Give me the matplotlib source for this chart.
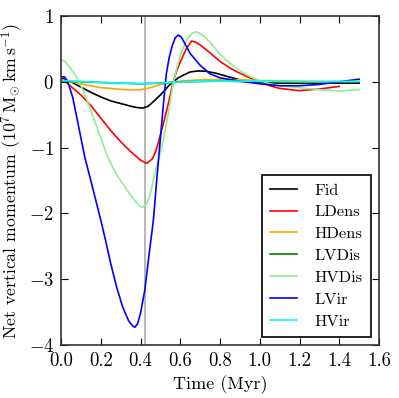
import matplotlib
matplotlib.use("Agg")
import matplotlib.pyplot as plt

plt.rcParams['font.family'] = 'serif'
plt.rcParams['font.serif'] = ['cmr10']
plt.rcParams['mathtext.fontset'] = 'cm'
plt.rcParams['axes.formatter.use_mathtext'] = True
plt.rcParams['axes.unicode_minus'] = True

labels = ["Fid", "LDens", "HDens", "LVDis", "HVDis", "LVir", "HVir"]
colors = ["black", "red", "orange", "green", "lightgreen", "blue", "cyan"]

t_fid = [0.0, 0.05, 0.1, 0.15, 0.2, 0.25, 0.3, 0.35, 0.38, 0.41, 0.44, 0.465, 0.5, 0.523, 0.545, 0.565,
         0.59, 0.615, 0.65, 0.69, 0.73, 0.78, 0.85, 0.9, 1.0, 1.1, 1.2, 1.3, 1.4, 1.5]
v_fid = [0.06, 0.0, -0.08, -0.16, -0.23, -0.29, -0.33, -0.37, -0.39, -0.40, -0.37, -0.30, -0.2, -0.125, -0.05, 0.0,
         0.06, 0.10, 0.15, 0.165, 0.16, 0.13, 0.07, 0.03, -0.01, -0.02, -0.02, -0.02, -0.02, -0.02]

t_ldens = [0.0, 0.05, 0.1, 0.15, 0.2, 0.25, 0.3, 0.35, 0.4, 0.431, 0.46, 0.48, 0.498, 0.52, 0.548, 0.565, 0.58,
           0.6, 0.63, 0.657, 0.68, 0.7, 0.75, 0.8, 0.85, 0.9, 0.95, 1.0, 1.05, 1.1, 1.2, 1.3, 1.4]
v_ldens = [0.06, -0.07, -0.2, -0.36, -0.55, -0.74, -0.91, -1.06, -1.19, -1.24, -1.17, -1.03, -0.83, -0.58, -0.23, 0.0, 0.15,
           0.3, 0.5, 0.62, 0.6, 0.56, 0.44, 0.31, 0.21, 0.13, 0.06, 0.0, -0.06, -0.1, -0.135, -0.11, -0.07]

t_hdens = [0.0, 0.05, 0.1, 0.15, 0.2, 0.25, 0.3, 0.356, 0.4, 0.45, 0.5, 0.55, 0.6, 0.7, 0.8, 0.9, 1.0, 1.2, 1.4, 1.5]
v_hdens = [0.03, 0.0, -0.03, -0.06, -0.09, -0.1, -0.115, -0.125, -0.12, -0.09, -0.04, -0.01, 0.01, 0.03, 0.035, 0.03,
           0.02, 0.01, 0.005, 0.0]

t_lvdis = [0.0, 0.2, 0.4, 0.5, 0.6, 0.8, 1.0, 1.2, 1.5]
v_lvdis = [0.01, -0.01, -0.03, -0.02, 0.0, 0.01, 0.0, 0.0, 0.0]

t_hvdis = [0.0, 0.02, 0.05, 0.08, 0.11, 0.14, 0.17, 0.2, 0.22, 0.24, 0.26, 0.28, 0.3, 0.32, 0.34, 0.36, 0.38,
           0.395, 0.41, 0.43, 0.45, 0.465, 0.485, 0.507, 0.525, 0.54, 0.555, 0.565, 0.58, 0.6, 0.632, 0.66, 0.683,
           0.71, 0.75, 0.8, 0.85, 0.9, 0.95, 1.0, 1.05, 1.1, 1.2, 1.3, 1.4, 1.5]
v_hvdis = [0.34, 0.31, 0.2, 0.06, -0.12, -0.35, -0.6, -0.85, -1.02, -1.17, -1.3, -1.41, -1.5, -1.59, -1.68, -1.76, -1.84,
           -1.89, -1.91, -1.86, -1.7, -1.49, -1.25, -0.99, -0.72, -0.48, -0.2, -0.02, 0.18, 0.4, 0.64, 0.74, 0.76,
           0.72, 0.6, 0.42, 0.28, 0.17, 0.08, 0.02, -0.03, -0.06, -0.09, -0.12, -0.14, -0.12]

t_lvir = [0.0, 0.02, 0.04, 0.06, 0.08, 0.1, 0.12, 0.15, 0.175, 0.2, 0.225, 0.25, 0.28, 0.31, 0.34, 0.36, 0.372, 0.385,
          0.4, 0.422, 0.44, 0.465, 0.48, 0.498, 0.515, 0.53, 0.545, 0.56, 0.575, 0.59, 0.605, 0.62, 0.65, 0.7, 0.75,
          0.8, 0.9, 1.0, 1.1, 1.2, 1.3, 1.4, 1.5]
v_lvir = [0.08, 0.07, -0.05, -0.25, -0.55, -0.85, -1.15, -1.5, -1.8, -2.1, -2.42, -2.76, -3.12, -3.42, -3.63, -3.71,
          -3.73, -3.68, -3.52, -3.16, -2.7, -2.1, -1.55, -0.93, -0.35, 0.12, 0.38, 0.55, 0.67, 0.71, 0.68, 0.6, 0.43,
          0.25, 0.12, 0.06, 0.01, -0.03, -0.06, -0.06, -0.04, 0.0, 0.04]

t_hvir = [0.0, 0.2, 0.42, 0.55, 0.7, 1.0, 1.3, 1.5]
v_hvir = [0.02, -0.01, -0.03, -0.01, 0.01, 0.01, 0.0, 0.01]

series_t = [t_fid, t_ldens, t_hdens, t_lvdis, t_hvdis, t_lvir, t_hvir]
series_v = [v_fid, v_ldens, v_hdens, v_lvdis, v_hvdis, v_lvir, v_hvir]

vline_t = 0.424

fig = plt.figure(figsize=(3.99, 3.98), dpi=100)
ax = fig.add_axes([61/399, 53/398, 318/399, 329/398])

ax.axvline(vline_t, color='0.72', lw=1.4, zorder=1)
for t, v, c, lab in zip(series_t, series_v, colors, labels):
    ax.plot(t, v, color=c, lw=1.2, label=lab, zorder=2)

ax.set_xlim(0, 1.6)
ax.set_ylim(-4, 1)
ax.set_xticks([0.0, 0.2, 0.4, 0.6, 0.8, 1.0, 1.2, 1.4, 1.6])
ax.set_xticklabels(["0.0", "0.2", "0.4", "0.6", "0.8", "1.0", "1.2", "1.4", "1.6"])
ax.set_yticks([-4, -3, -2, -1, 0, 1])
ax.set_yticklabels([r"$-4$", r"$-3$", r"$-2$", r"$-1$", r"$0$", r"$1$"])
ax.tick_params(direction='in', top=True, right=True, length=5, width=0.8, labelsize=13.5, pad=5)
for s in ax.spines.values():
    s.set_linewidth(1.2)
    s.set_color('0.2')

ax.set_xlabel("Time (Myr)", fontsize=13, labelpad=4)
ax.set_ylabel(r"Net vertical momentum ($10^7\,\mathrm{M}_{\odot}\,\mathrm{km\,s^{-1}}$)", fontsize=12.8, labelpad=3)

leg = ax.legend(loc='lower right', fontsize=11.8, fancybox=False, edgecolor='black', framealpha=1,
                handlelength=1.6, handletextpad=1.1, borderpad=0.5, labelspacing=0.45, borderaxespad=0.5)
leg.get_frame().set_linewidth(1.2)

fig.savefig("out.png", dpi=100)
